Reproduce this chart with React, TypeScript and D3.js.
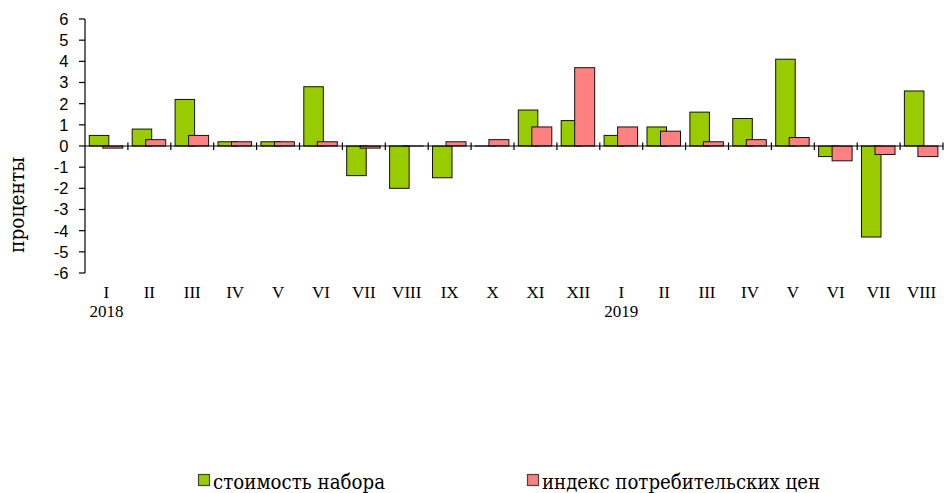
import React, { useRef, useEffect } from 'react';
import * as d3 from 'd3';

const months = ['I', 'II', 'III', 'IV', 'V', 'VI', 'VII', 'VIII', 'IX', 'X', 'XI', 'XII',
  'I', 'II', 'III', 'IV', 'V', 'VI', 'VII', 'VIII'];
const years = ['2018', '', '', '', '', '', '', '', '', '', '', '', '2019', '', '', '', '', '', '', ''];
const basket = [0.5, 0.8, 2.2, 0.2, 0.2, 2.8, -1.4, -2.0, -1.5, 0.0, 1.7, 1.2,
  0.5, 0.9, 1.6, 1.3, 4.1, -0.5, -4.3, 2.6];
const cpi = [-0.1, 0.3, 0.5, 0.2, 0.2, 0.2, -0.1, 0.0, 0.2, 0.3, 0.9, 3.7,
  0.9, 0.7, 0.2, 0.3, 0.4, -0.7, -0.4, -0.5];
const yTicks = [6, 5, 4, 3, 2, 1, 0, -1, -2, -3, -4, -5, -6];
const seriesNames = ['стоимость набора', 'индекс потребительских цен'];
const seriesColors = ['#99CC00', '#FF8080'];

const SERIF = "'Liberation Serif', 'Times New Roman', serif";
const CYR_SERIF = "'DejaVu Serif', 'Liberation Serif', serif";
const SANS = "'Liberation Sans', Arial, sans-serif";

export default function App() {
  const svgRef = useRef<SVGSVGElement | null>(null);

  useEffect(() => {
    if (!svgRef.current) return;
    const left = 85, right = 943, top = 19, bottom = 273;
    const svg = d3.select(svgRef.current);
    svg.selectAll('*').remove();

    const idx = months.map((_, i) => i);
    const x = d3.scaleBand<number>().domain(idx).range([left, right]).paddingInner(0).paddingOuter(0);
    const y = d3.scaleLinear().domain([-6, 6]).range([bottom, top]);
    const bw = x.bandwidth();

    // y axis
    svg.append('line').attr('x1', left).attr('x2', left).attr('y1', y(6)).attr('y2', y(-6))
      .attr('stroke', '#000').attr('stroke-width', 1.2);
    yTicks.forEach((t) => {
      svg.append('line').attr('x1', left - 6).attr('x2', left).attr('y1', y(t)).attr('y2', y(t))
        .attr('stroke', '#000').attr('stroke-width', 1.2);
      svg.append('text').attr('x', left - 16.5).attr('y', y(t)).attr('dy', '0.36em')
        .attr('text-anchor', 'end').attr('font-family', SANS)
        .attr('font-size', 16.5).attr('fill', '#000').text(t);
    });

    // bars (zero values still show their outline as a line)
    const g = svg.append('g');
    const bar = (v: number, x0: number, w: number, fill: string) => {
      g.append('rect').attr('x', x0).attr('width', w)
        .attr('y', y(Math.max(0, v))).attr('height', Math.max(0.01, Math.abs(y(v) - y(0))))
        .attr('fill', fill).attr('stroke', '#111').attr('stroke-width', 1);
    };
    basket.forEach((v, i) => {
      const x0 = x(i)!;
      bar(v, x0 + bw * 0.1, bw * 0.455, seriesColors[0]);
      bar(cpi[i], x0 + bw * 0.415, bw * 0.466, seriesColors[1]);
    });

    // x axis at zero
    svg.append('line').attr('x1', left).attr('x2', right).attr('y1', y(0)).attr('y2', y(0))
      .attr('stroke', '#000').attr('stroke-width', 1.2);
    idx.forEach((i) => {
      const xe = x(i)! + bw;
      svg.append('line').attr('x1', xe).attr('x2', xe).attr('y1', y(0) - 3.5).attr('y2', y(0) + 4)
        .attr('stroke', '#000').attr('stroke-width', 1.2);
    });

    // category labels
    months.forEach((m, i) => {
      const cx = x(i)! + bw / 2;
      svg.append('text').attr('x', cx).attr('y', 298).attr('text-anchor', 'middle')
        .attr('font-family', SERIF).attr('font-size', 17)
        .attr('fill', '#000').text(m);
      if (years[i]) {
        svg.append('text').attr('x', cx).attr('y', 316.5).attr('text-anchor', 'middle')
          .attr('font-family', SERIF).attr('font-size', 17)
          .attr('fill', '#000').text(years[i]);
      }
    });

    // y title
    svg.append('text').attr('transform', `translate(24,205) rotate(-90)`).attr('text-anchor', 'middle')
      .attr('font-family', CYR_SERIF).attr('font-size', 21)
      .attr('textLength', 96).attr('lengthAdjust', 'spacingAndGlyphs')
      .attr('fill', '#000').text('проценты');

    // legend
    const legendX = [198, 527];
    const legendW = [172, 278];
    seriesNames.forEach((name, i) => {
      svg.append('rect').attr('x', legendX[i] + 0.5).attr('y', 474.5).attr('width', 11).attr('height', 11)
        .attr('fill', seriesColors[i]).attr('stroke', '#444').attr('stroke-width', 1.2);
      svg.append('text').attr('x', legendX[i] + 15).attr('y', 488.5)
        .attr('font-family', CYR_SERIF).attr('font-size', 21)
        .attr('textLength', legendW[i]).attr('lengthAdjust', 'spacingAndGlyphs')
        .attr('fill', '#000').text(name);
    });
  }, []);

  return (
    <div style={{ position: 'absolute', left: 0, top: 0, background: '#fff' }}>
      <svg ref={svgRef} width={944} height={493} style={{ display: 'block' }} />
    </div>
  );
}
